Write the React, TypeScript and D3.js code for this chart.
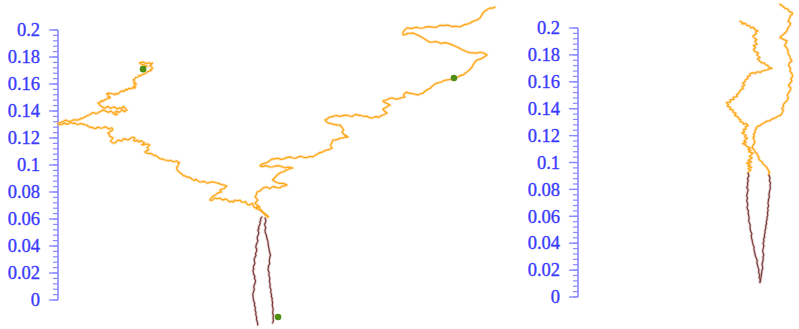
import React from "react";
import * as d3 from "d3";

// Values are in thousandths (1 = 0.001) on both axes.
type Pt = [number, number];

const tickValues = [0, 0.02, 0.04, 0.06, 0.08, 0.1, 0.12, 0.14, 0.16, 0.18, 0.2];
const tickLabels = ["0", "0.02", "0.04", "0.06", "0.08", "0.1", "0.12", "0.14", "0.16", "0.18", "0.2"];
const minorStep = 0.004;

// Left panel: orange walk, western arm (from the start marker down to the fork)
const westArm: Pt[] = [
  [63,171],[64.5,172.5],[66,173],[64,174],[62,174.5],[60.5,175.5],[62,176.2],[64,176],[65.5,175],[67,175.8],[68.5,175],[70,175.5],[69,174.3],[68,173.5],[69.5,172.5],[70,171.5],[68.5,170.8],[69,170],[67.5,169.5],[66,169],[65,168],[64,167.5],[62.5,167],[61,166],[60,166.5],[59,165],[57.5,164.8],[57,164],[55.6,163],[56.5,162.3],[57,161.5],[56,160.8],[58,160],[57,159.2],[56,158.5],[57.5,157.8],[57,157],[55.5,157.3],[54,156.5],[52.5,156.8],[51,155.6],[50,156],[49,154.5],[47.5,155],[46,154],[45,153.2],[44,152.5],[43,153],[42,152],[40.5,152.8],[39,153],[37.5,153.3],[36,152.6],[37.5,152],[37,151],[38.5,150.3],[38.5,149.6],[37,149.5],[36,149],[35,148.2],[34,148],[33,147],[32,147.5],[31,146.3],[29.6,146],[30.5,145.2],[31,144.5],[32,143.5],[33,143],[34,142.3],[34.8,142],[36,143],[37,143.5],[38,142.5],[39,142],[40.5,142.8],[42,143],[43,142],[44,141.5],[45.5,142.3],[47.4,142],[48,143.2],[49,143],[50,141.8],[51,140.7],[50,140],[49,139.5],[48,140.8],[47,140.5],[46,139.5],[45,139],[43.5,139.8],[42,139],[43,138.3],[44,137.5],[42.5,137.2],[41,138],[40,139.3],[39,140],[37.5,139],[36,139.5],[34.5,140.5],[33,140.7],[32,139.8],[31,139.5],[29.5,138.5],[28,138],[26.5,138.8],[25,138.5],[24,137.5],[23,137],[21.5,136.5],[20,135.6],[19,135],[18,134.5],[17,134.6],[16.3,134],[14.5,133.2],[13,133.5],[11.5,133.5],[10.4,133],[8.5,132.2],[7,132.5],[6,133.3],[5,133],[4,132.2],[3,132],[2,131.2],[1,131.5],[0.5,130.8],[0,130.4],[1.5,129.8],[3,130],[4,130.8],[5,131],[6.5,130.3],[8,130.5],[9,131.3],[10,131.5],[11.5,130.8],[12.6,131],[14,130.2],[15,130],[16.5,130.7],[18,130.5],[20,129.8],[21.5,129.6],[22,128.8],[23,128.5],[24,127.7],[25,128],[26.5,127.3],[28,127],[29,127.8],[30,128],[31.5,127.2],[33,127.4],[34.5,128.2],[36,128],[37,127],[38,126.5],[39,127.5],[40,127.4],[40.5,126],[39,125],[38.5,124.5],[37,123.7],[38,122.5],[38,121.5],[39.5,120.8],[40.7,120],[40,119],[39,118],[39.5,117],[40.7,116.3],[42,116.3],[43,117],[44,118],[45,118.5],[46,118],[47.4,117.8],[48,119],[49,119.5],[50.5,119],[52,118.5],[53,119.2],[54,120],[55.5,120.6],[57,120],[56.5,119],[56,118],[57.5,117.6],[59,118.5],[59.5,117.5],[60,117],[61,117.8],[62,117.8],[63,117],[64,116.5],[63,115.5],[62,115],[63.5,114.8],[65,115.5],[66.5,115.5],[68,114.8],[67,114],[66,113],[66.8,112],[67,111],[65.5,110.5],[64.4,109.6],[65.5,108.8],[67,108.5],[68.5,108.6],[70,108],[71,107],[71.9,107.4],[73,106.5],[74,106],[75,105],[76,104.5],[77.5,104.5],[79,103.7],[80.5,103.5],[82,103],[83.5,103.5],[85,102.5],[86.5,102.6],[88,103],[89,102],[90,102],[89,100.7],[89,99.5],[88,98.2],[88,97],[89,95.5],[90,94.5],[91.5,93.5],[93,92],[94,92],[95.6,91],[97,91],[98,90.5],[99.5,89.3],[101,88.5],[102,89.3],[103,89],[104,88],[105,87.4],[106.5,87.5],[108,88],[109.5,87],[111,86.5],[112.5,87.2],[114,87.5],[116,87.2],[117.8,86.7],[119.5,86.2],[121,85.5],[123,85.2],[125,84.4],[124,83.5],[123,82.5],[121.5,82.2],[120,81.5],[120.5,80.6],[121,80],[119.5,79.7],[118,79],[117,78.2],[116,77.5],[115,77],[114,76],[113,75],[112.6,74],[114,73.8],[115,74.5],[116,75.5],[118,75],[120,75.6],[121,74.6],[122,74],[123.5,74.8],[125,74.5],[126,73.5],[127.4,72.6],[128.5,73.2],[130,72.5],[130.5,73.5],[131,74],[133,73.5],[134.8,74],[135.5,73.2],[136,72.5],[137.5,72.4],[139,73],[139.5,72],[140,71],[141,70.5],[142,70.4],[143,71.2],[144,71.5],[144.5,70.3],[145,69],[146,68.2],[147.4,68],[148.2,68.8],[149,69.5],[149.5,68],[150,66.5],[151,66],[151.9,65],[153,64],[154,63.5],[155,62.5],[155.6,61.5],
];

// Left panel: orange walk, eastern arm (from the fork up to the top right)
const eastArm: Pt[] = [
  [155.6,61.5],[154.5,62.2],[153,63.5],[152.5,64.3],[151,65.5],[150.5,66.3],[149.6,66.7],[148,67.2],[147,68.5],[147.8,69.3],[148,70],[146.8,70.8],[146,71.9],[147,72.8],[148,74],[147,75.2],[146,76.5],[147,78],[147.4,80],[148.7,80.4],[150,81],[151,82.2],[152,83],[153.3,83.5],[154.8,83.7],[156,83],[157,82.5],[158.5,83.6],[160,84],[162,83.2],[164.4,83],[165.5,84],[167,84.5],[168.3,84.5],[169.6,85.2],[168,86],[166,86.5],[164,86.4],[162,87],[160.5,87.8],[159,88.9],[160,90],[161,91],[162.5,92.8],[164.4,94],[165.5,94.6],[167,95],[168.5,96],[170,96.5],[172,97.5],[174,97.8],[172,98.2],[170,98.5],[168.5,97.8],[166.7,98.5],[164.5,99.2],[162,99.5],[159.5,98.7],[157,98.5],[155,99.3],[153,99.5],[151.5,98.8],[149.6,99.3],[150.5,100.3],[152,101],[154,101.5],[156,102.5],[157.5,103.8],[159,104.4],[161,104.7],[163,105],[165,104.2],[167,104.5],[169.5,105.5],[171.9,106],[174,105.2],[176,105],[178,106],[180,106.5],[182,105.7],[184,105.5],[186.5,106.3],[189,106],[190.5,107.2],[192,108],[194,109.2],[196,109.6],[197.5,110.6],[199,111],[201,111.6],[203,112.6],[202.2,113.8],[202,115],[203,116.7],[203.7,118.5],[205.5,118.6],[207,119],[209,119.9],[211,120],[213,120.8],[214.8,120.7],[213.5,121.6],[212,122.5],[211.2,123.3],[210.4,124.4],[211.5,125.8],[211,127],[210,128.3],[209,129.6],[207,129.6],[205,130],[203,130.4],[201.5,131],[200,131.2],[199,132],[198.4,132.8],[197.8,133.3],[199,134],[200,134.5],[200.5,135.2],[201.5,135.6],[203.5,135.8],[205,136.5],[207,136.6],[209,136],[211.5,136.8],[214,137],[216,136.3],[218,136],[219.5,137],[221,137.5],[222.5,136.7],[223.7,137],[225.5,136.3],[227,136],[228.5,136.2],[230,135.5],[231.5,134.9],[233,134.8],[234.5,135.6],[236,136],[237,135.2],[238,135.5],[239.5,136.6],[240.7,137],[242,137.6],[243.7,138.5],[242.7,139.2],[242,140],[241,140.8],[240.7,141.5],[242,142.2],[243,142.5],[244.5,143.8],[246,144.4],[244.5,145.2],[243,146],[241.5,146.5],[240.7,147.4],[242.5,148],[244,148.5],[246,149.5],[248,149.6],[250,148.8],[252,149],[254.5,149.8],[257,150.4],[256.2,151.2],[256,152],[257,153.2],[258.5,154],[260,153.2],[262,153],[264.5,152.4],[266.7,151.9],[268.5,152.8],[270,153],[271.8,154.6],[273.3,155.6],[274.5,156.2],[276,157],[277,158.2],[278,159],[279.5,160.2],[280.7,160.7],[282.5,161.1],[284,161.5],[286,162.6],[288,163],[289.5,163.2],[291,163.5],[292,164.2],[293.3,164.4],[294.5,164.6],[296,165],[298,166.2],[300,166.7],[301.5,167.8],[303,169],[305,170.6],[306.7,172.6],[307.3,173.8],[308,175],[309,176.5],[310.4,177.8],[312,178.2],[314,179],[316,180.2],[317.8,181.5],[316.5,182.4],[315,183],[313.8,183.2],[312.6,183.7],[310.5,182.8],[308,183],[305.5,183.2],[303,183.7],[301,184.8],[299,185.5],[297.3,186.6],[295.6,187.4],[293.8,188.2],[292,189],[290,189.7],[288,190.4],[286,190.6],[284,190],[282,190.8],[280,191.5],[277.8,191.2],[275.6,191],[274.2,191.6],[273,192.5],[271.6,193.3],[270.4,194],[268.8,195],[267,196],[265,196.8],[263,197.8],[261,197.6],[259,197.5],[257.2,196.6],[255.6,196.3],[255.4,197.6],[256,199],[257,200.3],[258.5,201.5],[260.3,201.4],[262,201],[264,201.8],[266,202],[268,201.3],[270.4,201.5],[272.7,202.3],[275,202.5],[277.8,202.1],[280.7,202.2],[282.3,203.2],[284,203.5],[286,203.3],[288,203.7],[290,203.2],[292,202.5],[295,202.8],[297.8,202.2],[299.4,203.2],[301,204],[303,204.3],[305,205],[307,206.2],[309,207],[311,207.7],[312.6,208.9],[313.2,210],[314,211],[314.3,211.8],[314.8,212.6],[316,213.8],[317,214.5],[318.5,215.6],[320,216.3],[322,216.2],[323.7,217],
];

// Left panel: the two dark strands hanging from the fork
const leftStrandA: Pt[] = [
  [151,61.5],[150,60],[150.2,58.8],[149.5,58],[149.8,56.5],[149,55],[148.5,53.5],[148.9,52.7],[148,51.9],[148.7,50.2],[148.5,48.5],[147.8,47.2],[147.5,45.5],[148.1,44],[147.4,42.2],[146.8,40.8],[146.5,39],[147.3,37.5],[147,36],[146.3,34.2],[146.7,33],[146,31.9],[145.3,30.2],[145.5,28.5],[145.9,27],[145,25.5],[144.6,24],[145.1,23],[144.4,22.2],[144.7,20.5],[145,19],[145.8,17.5],[145.5,16],[146.3,14.5],[146,12.6],[145.3,11],[145,9.5],[145.4,7.8],[144.8,6],[144.2,4],[144.6,3],[144.4,2.2],[144.8,0.5],[145,-1],[145.7,-2.5],[145.5,-4],[146.2,-5.6],[146,-7.4],[146.6,-9],[146.5,-11],[147.2,-12.8],[147,-14.5],[147.7,-16.3],[148,-18.5],
];
const leftStrandB: Pt[] = [
  [153.3,60.7],[154,59],[153.8,57.5],[153,56.2],[153.3,55],[153.9,53.5],[153.3,51.9],[153.5,50],[154.2,48.5],[154.5,47],[154.8,45.5],[155.4,44],[155.6,42.2],[155.8,40.2],[156.2,38.5],[156.5,36.8],[156.8,35],[157.4,33.5],[157,31.9],[156.6,30],[156.5,28.5],[156.9,27],[156,25.5],[155.8,24],[155.6,22.2],[156.4,20.4],[156.2,18.5],[156.9,16],[156.6,14],[157.1,11.8],[157,9.6],[157.8,7.5],[157.6,5.5],[158.2,4],[158,2.5],[158.7,1.2],[158.5,0],[159,-2],[158.7,-4],[159.4,-6.8],[159,-9.6],[159.6,-11.5],[159.2,-13],[159.6,-15],[159,-17],
];

const leftMarkers: Pt[] = [[63,171],[293.3,164.4],[163,-12.6]];

// Right panel: two orange walks coming down to the dark loop
const rightWest: Pt[] = [
  [120,205],[122,204],[121.5,203],[124,203.5],[125,202],[127.4,201.5],[128,200],[130,200.5],[131,199],[133.3,197.8],[131.5,197],[132,195.5],[129.6,194],[130.5,192.6],[132.5,191.5],[131,190],[132.6,188],[130,187],[131.5,185.5],[130,184],[131,182.5],[133.5,181.5],[132.5,180],[134.8,178],[133,177],[134.5,175.5],[136.3,174],[138,174],[139,172.5],[140.5,172.5],[141,171],[143.7,170],[141.5,169.5],[140,168.8],[137,168.2],[135,167],[133,167.5],[131,166.2],[129.5,166.8],[127.4,166],[127.5,164.5],[125.5,164],[126,162.5],[124,161.5],[123.7,160],[122,159],[123.5,157.5],[121.5,156.5],[122.5,155],[120.5,154],[119.5,152.5],[118.8,151],[117.5,150.5],[117.8,149],[115,148.5],[115.5,147],[112.6,146.5],[113,145],[110,144.5],[111.5,143],[110.5,142],[113,141],[112.5,139.5],[115,139],[114.8,137.5],[117,136.5],[116,135],[118.5,134],[119,132.5],[120.5,132],[120,130.5],[122,130],[122.5,128.5],[124.5,129],[126,127.4],[124,126.5],[124.5,125],[122.5,124.5],[123.5,123],[121.5,122],[123,121],[124.5,120],[123.5,118.8],[125.5,118],[124,117],[123,116],[124.5,115],[122,114],[124,113.3],[125,112],[127.4,111],[126,109.8],[128,109],[126.5,108],[129.6,107],[128,105.5],[127,104.5],[129,103.5],[127.4,102.5],[126,101.5],[128.5,100.5],[125,99.5],[127.5,98.5],[126,97.5],[128.5,96.5],[126,95.5],[128,94.5],[126.5,93.2],[126,91.9],
];
const rightEast: Pt[] = [
  [149.6,217.8],[151,216.5],[152,216],[153.5,214.5],[155.6,214],[156,212.8],[157,212],[158.5,211.5],[159,210.4],[157.5,209.5],[157,208],[156.5,206.5],[155.6,205],[157.5,203.5],[157,202],[155.5,200],[154.8,197.8],[153.5,196.5],[152,195],[150.5,194],[149.6,192.6],[151,192.3],[152,191.5],[153.5,191],[154.8,190.4],[154,188.5],[153,187],[154.8,185],[155.6,183],[155.6,181],[157,179],[157.2,177.2],[158.5,175.6],[156.5,174],[156,172],[157.4,170],[157,168],[158.5,166],[159,164],[157.6,162.3],[158.5,160.7],[157.2,159],[156,157],[157.8,155.3],[157,153.3],[156,151.8],[155,150],[155.8,148],[154.8,146],[153.3,144.6],[152,143],[152.3,141.5],[151,140],[152.2,138.8],[151.5,137.5],[150.8,136],[149.6,134.8],[147.8,134.3],[146,133],[144,132.5],[142,131],[140,130.8],[138,129.5],[136.5,128.8],[134.8,127.4],[133.2,127],[132,126],[132,124.8],[131,123.7],[131.2,122.3],[130,121],[130.8,119.7],[129.6,118.5],[130.5,116.8],[131,115],[129.8,113],[128.9,111],[130.3,109.7],[131,108.5],[131.3,107.5],[132.6,106.7],[133,105.3],[134,104],[133.8,102.7],[134.8,101.5],[136.3,100.6],[137,99],[138.5,97.7],[140,96.3],[140.2,95.4],[141,94.5],[141.2,93.5],[142,92.6],[141.2,91.5],[141.5,90.4],
];
const rightStrandA: Pt[] = [
  [126,91.9],[126.6,90],[125.5,88],[126.2,86.5],[125.5,85],[125.8,83.2],[125,81.5],[126,79.8],[125.6,78],[125.2,76.5],[125,75],[125.6,73.5],[125,71.9],[125.4,70.2],[125.8,68.5],[125.2,67],[125.5,65.5],[126.3,63.8],[126,62.2],[126.5,60.3],[126.8,58.5],[126.4,56.8],[127,55],[127.6,53.5],[127.4,51.9],[127.6,50.2],[128,48.5],[128.8,47],[128.3,45.5],[128.6,43.8],[129,42.2],[129.3,40.4],[129.8,38.5],[130.5,37],[130.3,35.5],[130.6,34],[131,32.6],[131.3,30.8],[132,29],[132.8,27.2],[132.5,25.5],[133,23.8],[133.3,22.2],[134,20.3],[133.8,18.5],[134.5,16.5],[134.2,14.5],[134.9,12.8],[134.8,11],
];
const rightStrandB: Pt[] = [
  [141.5,90.4],[142.2,88.5],[141.8,86.5],[142.6,84.8],[142.2,83],[142.5,81],[142,79.3],[141.7,77.6],[141.4,76],[141.8,74.5],[141.2,73],[141,71.3],[140.7,69.6],[141.2,67.8],[140.5,66],[140.8,64.3],[140.3,62.5],[140.6,60.8],[140,59.3],[140,57.6],[139.5,56],[139.7,54.5],[139,53],[139.2,51.3],[138.5,49.6],[138.6,47.8],[138,46],[138.2,44.5],[137.4,43],[137.8,41.5],[137,40],[137.7,38.3],[137.3,36.5],[136.8,34.7],[137,33],[137.6,31.2],[137,29.6],[137.2,27.8],[136.8,26],[136.3,24.5],[136.6,23],[136.9,21.5],[136.3,20],[136.1,18.2],[135.8,16.5],[135.7,15],[135.3,13.5],[135.2,12.2],[134.8,11],
];

const W = 799;
const H = 329;
const PX_PER_UNIT = 1350;
const MILLI = 1e-3;

const ORANGE = "#ffa30f";
const ORANGE_HALO = "#ffb84a";
const BROWN = "#7e3b3b";
const BROWN_HALO = "#b58585";
const MARKER = "#4f8f14";
const AXIS = "#8a8aff";
const LABEL = "#3a3aff";

type Scale = d3.ScaleLinear<number, number>;

function Axis({ x, y }: { x: Scale; y: Scale }) {
  const x0 = x(0);
  const minors = d3.range(0, 0.2 + 1e-9, minorStep);
  return (
    <g>
      <line x1={x0} x2={x0} y1={y(0)} y2={y(0.2)} stroke={AXIS} strokeWidth={1.6} />
      {minors.map((v, i) => (
        <line key={"m" + i} x1={x0 - 5} x2={x0} y1={y(v)} y2={y(v)} stroke={AXIS} strokeWidth={1.2} />
      ))}
      {tickValues.map((v, i) => (
        <g key={"t" + i}>
          <line x1={x0 - 9} x2={x0} y1={y(v)} y2={y(v)} stroke={AXIS} strokeWidth={1.4} />
          <text
            x={x0 - 18}
            y={y(v)}
            dy="0.34em"
            textAnchor="end"
            fill={LABEL}
            stroke={LABEL}
            strokeWidth={0.35}
            fontFamily="'Liberation Serif', 'Times New Roman', serif"
            fontSize={18.5}
          >
            {tickLabels[i]}
          </text>
        </g>
      ))}
    </g>
  );
}

// A walk is drawn as a soft halo under a thin core line.
function Walk({ pts, x, y, color, halo, width }: { pts: Pt[]; x: Scale; y: Scale; color: string; halo: string; width: number }) {
  const line = d3
    .line<Pt>()
    .x((d) => x(d[0] * MILLI))
    .y((d) => y(d[1] * MILLI));
  const d = line(pts) ?? "";
  return (
    <g fill="none" strokeLinejoin="round" strokeLinecap="round">
      <path d={d} stroke={halo} strokeWidth={width + 1.8} strokeOpacity={0.35} />
      <path d={d} stroke={color} strokeWidth={width} />
    </g>
  );
}

export default function App() {
  const xL = d3.scaleLinear().domain([0, 0.55]).range([58, 58 + 0.55 * PX_PER_UNIT]);
  const yL = d3.scaleLinear().domain([0, 0.2]).range([300, 30]);
  const xR = d3.scaleLinear().domain([0, 0.165]).range([578, 578 + 0.165 * PX_PER_UNIT]);
  const yR = d3.scaleLinear().domain([0, 0.2]).range([297, 28]);

  return (
    <svg
      width={W}
      height={H}
      style={{ position: "absolute", left: 0, top: 0, background: "#fff" }}
    >
      <Axis x={xL} y={yL} />
      <Axis x={xR} y={yR} />

      <Walk pts={westArm} x={xL} y={yL} color={ORANGE} halo={ORANGE_HALO} width={1.2} />
      <Walk pts={eastArm} x={xL} y={yL} color={ORANGE} halo={ORANGE_HALO} width={1.2} />
      <Walk pts={leftStrandA} x={xL} y={yL} color={BROWN} halo={BROWN_HALO} width={1.2} />
      <Walk pts={leftStrandB} x={xL} y={yL} color={BROWN} halo={BROWN_HALO} width={1.2} />
      {leftMarkers.map((d, i) => (
        <circle key={i} cx={xL(d[0] * MILLI)} cy={yL(d[1] * MILLI)} r={3.3} fill={MARKER} />
      ))}

      <Walk pts={rightWest} x={xR} y={yR} color={ORANGE} halo={ORANGE_HALO} width={1.2} />
      <Walk pts={rightEast} x={xR} y={yR} color={ORANGE} halo={ORANGE_HALO} width={1.2} />
      <Walk pts={rightStrandA} x={xR} y={yR} color={BROWN} halo={BROWN_HALO} width={1.2} />
      <Walk pts={rightStrandB} x={xR} y={yR} color={BROWN} halo={BROWN_HALO} width={1.2} />
    </svg>
  );
}
